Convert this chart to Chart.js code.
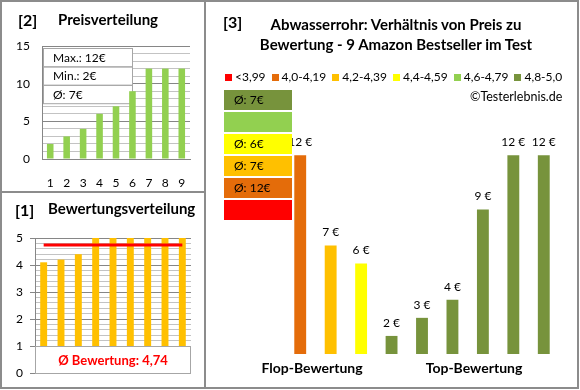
<!DOCTYPE html>
<html lang="de">
<head>
<meta charset="utf-8">
<title>Abwasserrohr: Verhältnis von Preis zu Bewertung</title>
<script src="https://cdn.jsdelivr.net/npm/chart.js@4.4.1/dist/chart.umd.min.js"></script>
<style>
    html, body { margin: 0; padding: 0; background: #fff; }
    body {
        width: 580px; height: 390px; position: relative; overflow: hidden;
        font-family: Lato, 'Open Sans', sans-serif; color: #000;
    }
    .frame { position: absolute; left: 0; top: 0; width: 575px; height: 385px; border: 2px solid #8c8c8c; }
    .vline { position: absolute; left: 204px; top: 0; width: 2px; height: 389px; background: #8c8c8c; }
    .hline { position: absolute; left: 0; top: 191px; width: 205px; height: 2px; background: #8c8c8c; }
    canvas { position: absolute; }
    .txt { position: absolute; white-space: nowrap; line-height: 1; font-weight: bold; }
    .num { font-size: 16px; }
    .head { font-size: 15px; }
    .center { transform: translateX(-50%); text-align: center; }
    #legend { position: absolute; left: 225px; top: 71px; display: flex; align-items: center; font-size: 12px; line-height: 12px; }
    #legend .item { display: flex; align-items: center; margin-right: 6px; }
    #legend .sq { width: 7px; height: 7px; margin-right: 3px; }
    .avgbox { position: absolute; left: 224px; width: 68px; height: 20px; font-size: 12px; line-height: 20px; text-indent: 10px; }
</style>
</head>
<body>
<div class="frame"></div>
<div class="vline"></div>
<div class="hline"></div>

<canvas id="price" width="204" height="191" style="left:0;top:0"></canvas>
<canvas id="rating" width="204" height="195" style="left:0;top:193px"></canvas>
<canvas id="main" width="371" height="388" style="left:206px;top:0"></canvas>

<div class="txt num" style="left:18px;top:12px">[2]</div>
<div class="txt head" style="left:58px;top:12px">Preisverteilung</div>
<div class="txt num" style="left:15px;top:202px">[1]</div>
<div class="txt head" style="left:48px;top:201px">Bewertungsverteilung</div>
<div class="txt num" style="left:223px;top:14px">[3]</div>
<div class="txt head center" style="left:396px;top:17px">Abwasserrohr: Verhältnis von Preis zu</div>
<div class="txt head center" style="left:396px;top:37px">Bewertung - 9 Amazon Bestseller im Test</div>
<div id="legend"></div>
<div class="txt" style="left:470px;top:91px;font-weight:normal;font-size:12.5px">©Testerlebnis.de</div>
<div id="avgboxes"></div>
<div id="groups"></div>

<script>
    // Preisverteilung
    const priceLabels = ['1', '2', '3', '4', '5', '6', '7', '8', '9'];
    const priceValues = [2, 3, 4, 6, 7, 9, 12, 12, 12];
    const priceStats = ['Max.: 12€', 'Min.: 2€', 'Ø: 7€'];

    // Bewertungsverteilung
    const ratingValues = [4.1, 4.2, 4.4, 5, 5, 5, 5, 5, 5];
    const ratingAvgLine = [4.74, 4.74, 4.74, 4.74, 4.74, 4.74, 4.74, 4.74, 4.74];
    const ratingAvgText = 'Ø Bewertung: 4,74';

    // Preis zu Bewertung
    const mainLabels = ['1', '2', '3', '4', '5', '6', '7', '8', '9'];
    const mainValues = [12, 7, 6, 2, 3, 4, 9, 12, 12];
    const mainRange = [1, 2, 3, 5, 5, 5, 5, 5, 5];
    const ratingRanges = ['<3,99', '4,0-4,19', '4,2-4,39', '4,4-4,59', '4,6-4,79', '4,8-5,0'];
    const rangeAverages = ['', 'Ø: 12€', 'Ø: 7€', 'Ø: 6€', '', 'Ø: 7€'];
    const groupLabels = ['Flop-Bewertung', 'Top-Bewertung'];

    const COLORS = {
        red: '#FF0000',
        orange: '#E46C0A',
        amber: '#FFC000',
        yellow: '#FFFF00',
        lightGreen: '#92D050',
        darkGreen: '#77933C',
        gridMajor: '#868686',
        gridMinor: '#c3c3c3',
        boxBorder: '#a6a6a6'
    };
    const RANGE_COLORS = [COLORS.red, COLORS.orange, COLORS.amber, COLORS.yellow, COLORS.lightGreen, COLORS.darkGreen];
    const FONT = 'Lato, "Open Sans", sans-serif';

    Chart.defaults.font.family = FONT;
    Chart.defaults.color = '#000';

    const isInt = v => Math.abs(v - Math.round(v)) < 1e-6;

    // Legende oben rechts
    const legend = document.getElementById('legend');
    ratingRanges.forEach((label, i) => {
        const item = document.createElement('span');
        item.className = 'item';
        item.innerHTML = '<span class="sq" style="background:' + RANGE_COLORS[i] + '"></span>';
        item.appendChild(document.createTextNode(label));
        legend.appendChild(item);
    });

    // Durchschnittsboxen je Bewertungsklasse
    const avgBoxes = document.getElementById('avgboxes');
    for (let i = RANGE_COLORS.length - 1; i >= 0; i--) {
        const box = document.createElement('div');
        box.className = 'avgbox';
        box.style.top = (90 + (RANGE_COLORS.length - 1 - i) * 22) + 'px';
        box.style.background = RANGE_COLORS[i];
        box.textContent = rangeAverages[i];
        avgBoxes.appendChild(box);
    }

    // Gruppenbeschriftung
    const groups = document.getElementById('groups');
    [312, 474].forEach((x, i) => {
        const g = document.createElement('div');
        g.className = 'txt center';
        g.style.fontSize = '14px';
        g.style.left = x + 'px';
        g.style.top = '361px';
        g.textContent = groupLabels[i];
        groups.appendChild(g);
    });

    /**
     * Box mit Max/Min/Ø im Preisdiagramm
     */
    const priceStatsBox = {
        id: 'priceStatsBox',
        beforeDatasetsDraw(chart) {
            const {ctx, chartArea} = chart;
            const x = chartArea.left + 1, y = chartArea.top + 2, w = 89, rowH = 18.4;
            ctx.save();
            ctx.fillStyle = '#fff';
            ctx.fillRect(x, y, w, rowH * 3);
            ctx.strokeStyle = COLORS.boxBorder;
            ctx.lineWidth = 1;
            ctx.font = '12px ' + FONT;
            ctx.textBaseline = 'middle';
            priceStats.forEach((text, i) => {
                ctx.strokeRect(x + 0.5, y + i * rowH + 0.5, w, rowH);
                ctx.fillStyle = '#000';
                ctx.fillText(text, x + 10, y + i * rowH + rowH / 2 + 1);
            });
            ctx.restore();
        }
    };

    /**
     * Box mit Durchschnittsbewertung
     */
    const ratingAvgBox = {
        id: 'ratingAvgBox',
        afterDatasetsDraw(chart) {
            const {ctx, chartArea, scales} = chart;
            const top = scales.y.getPixelForValue(1);
            const bottom = scales.y.getPixelForValue(0);
            ctx.save();
            ctx.fillStyle = '#fff';
            ctx.fillRect(chartArea.left, top, chartArea.right - chartArea.left, bottom - top);
            ctx.strokeStyle = COLORS.boxBorder;
            ctx.lineWidth = 1;
            ctx.strokeRect(chartArea.left + 0.5, top + 0.5, chartArea.right - chartArea.left - 1, bottom - top);
            ctx.fillStyle = COLORS.red;
            ctx.font = 'bold 13px ' + FONT;
            ctx.textAlign = 'center';
            ctx.textBaseline = 'middle';
            ctx.fillText(ratingAvgText, (chartArea.left + chartArea.right) / 2, (top + bottom) / 2 + 1);
            ctx.restore();
        }
    };

    /**
     * Preisbeschriftung über den Balken
     */
    const barValueLabels = {
        id: 'barValueLabels',
        afterDatasetsDraw(chart) {
            const {ctx} = chart;
            const meta = chart.getDatasetMeta(0);
            ctx.save();
            ctx.font = '12px ' + FONT;
            ctx.fillStyle = '#000';
            ctx.textAlign = 'center';
            ctx.textBaseline = 'middle';
            meta.data.forEach((bar, i) => {
                ctx.fillText(mainValues[i] + ' €', bar.x, bar.y - 13);
            });
            ctx.restore();
        }
    };

    new Chart(document.getElementById('price'), {
        type: 'bar',
        data: {
            labels: priceLabels,
            datasets: [{
                data: priceValues,
                backgroundColor: COLORS.lightGreen,
                barPercentage: 0.4,
                categoryPercentage: 1
            }]
        },
        options: {
            responsive: false,
            animation: false,
            layout: { padding: { top: 46, right: 14, left: 0, bottom: 0 } },
            plugins: { legend: { display: false }, tooltip: { enabled: false } },
            scales: {
                x: {
                    grid: { display: false },
                    border: { color: COLORS.gridMajor },
                    ticks: { padding: 9, font: { size: 12 } },
                    afterFit(scale) { scale.height = 32; }
                },
                y: {
                    min: 0,
                    max: 15,
                    ticks: {
                        stepSize: 1,
                        autoSkip: false,
                        padding: 12,
                        font: { size: 12 },
                        callback: v => (v % 5 === 0 ? v : '')
                    },
                    grid: {
                        drawTicks: false,
                        color: ctx => (ctx.tick && ctx.tick.value % 5 === 0 ? COLORS.gridMajor : COLORS.gridMinor)
                    },
                    border: { color: COLORS.gridMajor },
                    afterFit(scale) { scale.width = 42; }
                }
            }
        },
        plugins: [priceStatsBox]
    });

    new Chart(document.getElementById('rating'), {
        type: 'bar',
        data: {
            labels: priceLabels,
            datasets: [{
                type: 'line',
                data: ratingAvgLine,
                borderColor: COLORS.red,
                borderWidth: 3,
                pointRadius: 0,
                order: 0
            }, {
                data: ratingValues,
                backgroundColor: COLORS.amber,
                barPercentage: 0.4,
                categoryPercentage: 1,
                order: 1
            }]
        },
        options: {
            responsive: false,
            animation: false,
            layout: { padding: { top: 45, right: 13, left: 0, bottom: 15 } },
            plugins: { legend: { display: false }, tooltip: { enabled: false } },
            scales: {
                x: { display: false },
                y: {
                    min: 0,
                    max: 5,
                    ticks: {
                        stepSize: 0.2,
                        autoSkip: false,
                        padding: 7,
                        font: { size: 12 },
                        callback: v => (isInt(v) ? Math.round(v) : '')
                    },
                    grid: {
                        tickLength: 5,
                        color: ctx => (ctx.tick && isInt(ctx.tick.value) ? COLORS.gridMajor : COLORS.gridMinor),
                        tickColor: ctx => (ctx.tick && isInt(ctx.tick.value) ? COLORS.gridMajor : 'rgba(0,0,0,0)')
                    },
                    border: { color: COLORS.gridMajor },
                    afterFit(scale) { scale.width = 35; }
                }
            }
        },
        plugins: [ratingAvgBox]
    });

    new Chart(document.getElementById('main'), {
        type: 'bar',
        data: {
            labels: mainLabels,
            datasets: [{
                data: mainValues,
                backgroundColor: mainRange.map(r => RANGE_COLORS[r]),
                barPercentage: 0.39,
                categoryPercentage: 1
            }]
        },
        options: {
            responsive: false,
            animation: false,
            layout: { padding: { top: 119, right: 18, left: 79, bottom: 34 } },
            plugins: { legend: { display: false }, tooltip: { enabled: false } },
            scales: {
                x: { display: false },
                y: { display: false, min: 1, max: 14 }
            }
        },
        plugins: [barValueLabels]
    });
</script>
</body>
</html>
